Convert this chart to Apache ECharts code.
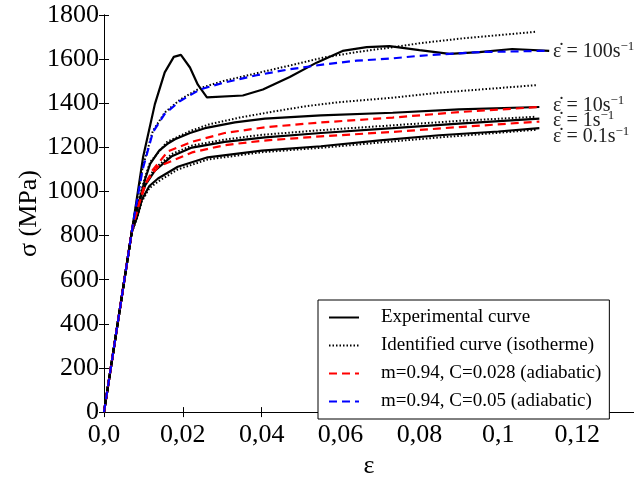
<!DOCTYPE html>
<html>
<head>
<meta charset="utf-8">
<script src="https://cdn.jsdelivr.net/npm/echarts@6/dist/echarts.min.js"></script>
<style>
  html, body { margin: 0; padding: 0; background: #fff; }
  #chart { width: 634px; height: 484px; }
</style>
</head>
<body>
<div id="chart"></div>
<script>
// strain / stress pairs [eps, MPa]
const exp100 = [[0, 0], [0.0075, 870], [0.0099, 1155], [0.0129, 1396], [0.0154, 1540],
  [0.0177, 1610], [0.0195, 1619], [0.0218, 1562], [0.0238, 1484], [0.0261, 1427], [0.0352, 1435],
  [0.0403, 1462], [0.0471, 1519], [0.0539, 1584], [0.0605, 1637], [0.0666, 1654], [0.0724, 1659],
  [0.080, 1641], [0.0876, 1624], [0.0952, 1632], [0.1035, 1646], [0.1129, 1637]];
const exp10 = [[0, 0], [0.0072, 835], [0.0088, 950], [0.0105, 1060], [0.0117, 1125], [0.014, 1185],
  [0.016, 1215], [0.018, 1237], [0.0218, 1265], [0.0256, 1287], [0.0332, 1313], [0.0408, 1330],
  [0.055, 1345], [0.0732, 1357], [0.09, 1372], [0.1104, 1383]];
const exp1 = [[0, 0], [0.0072, 835], [0.0085, 935], [0.0105, 1030], [0.0129, 1094], [0.0172, 1160],
  [0.0223, 1199], [0.0306, 1225], [0.0408, 1245], [0.055, 1265], [0.0732, 1287], [0.09, 1308], [0.1104, 1330]];
const exp01 = [[0, 0], [0.007, 812], [0.0085, 890], [0.0096, 963], [0.0115, 1025], [0.0137, 1059],
  [0.0187, 1112], [0.0263, 1155], [0.040, 1185], [0.055, 1205], [0.070, 1232], [0.085, 1255],
  [0.100, 1272], [0.1104, 1287]];

const iso100 = [[0, 0], [0.0075, 870], [0.0098, 1110], [0.0124, 1275], [0.0154, 1358],
  [0.0192, 1415], [0.0243, 1468], [0.0301, 1500], [0.0387, 1536], [0.0471, 1571], [0.0554, 1606],
  [0.0641, 1632], [0.0724, 1652], [0.080, 1672], [0.0909, 1694], [0.1096, 1724]];
const iso10 = [[0, 0], [0.0072, 835], [0.0088, 960], [0.0105, 1070], [0.0117, 1133], [0.016, 1225],
  [0.0218, 1274], [0.0268, 1305], [0.0344, 1335], [0.0428, 1362], [0.0514, 1387], [0.0597, 1405],
  [0.0732, 1425], [0.085, 1448], [0.0952, 1462], [0.1096, 1482]];
const iso1 = [[0, 0], [0.0072, 835], [0.0085, 940], [0.0105, 1040], [0.0129, 1105], [0.0172, 1170],
  [0.0223, 1208], [0.0306, 1235], [0.0395, 1256], [0.055, 1278], [0.0732, 1300], [0.09, 1320], [0.1096, 1339]];
const iso01 = [[0, 0], [0.007, 812], [0.0085, 885], [0.0096, 955], [0.0115, 1015], [0.0137, 1045],
  [0.0187, 1100], [0.0263, 1145], [0.040, 1178], [0.055, 1198], [0.070, 1222], [0.085, 1245],
  [0.100, 1266], [0.1096, 1280]];

const adiaC028_10 = [[0, 0], [0.0072, 835], [0.0088, 940], [0.0105, 1030], [0.0122, 1094], [0.0162, 1182],
  [0.0223, 1225], [0.0306, 1265], [0.0408, 1291], [0.055, 1313], [0.0732, 1335], [0.09, 1360], [0.1104, 1383]];
const adiaC028_1 = [[0, 0], [0.0072, 835], [0.0085, 920], [0.0104, 1037], [0.0137, 1112], [0.0223, 1177],
  [0.0306, 1210], [0.040, 1230], [0.055, 1250], [0.0732, 1270], [0.09, 1292], [0.1104, 1317]];
const adiaC05_100 = [[0, 0], [0.0075, 870], [0.0098, 1100], [0.0124, 1269], [0.0154, 1352],
  [0.0192, 1409], [0.0243, 1462], [0.0301, 1492], [0.0387, 1527], [0.0471, 1554], [0.0554, 1575],
  [0.0641, 1593], [0.0724, 1602], [0.080, 1615], [0.0876, 1624], [0.0952, 1632], [0.1104, 1637], [0.1129, 1637]];

const legendNames = ['Experimental curve', 'Identified curve (isotherme)',
  'm=0.94, C=0.028 (adiabatic)', 'm=0.94, C=0.05 (adiabatic)'];
const rateLabels = ['100', '10', '1', '0.1'];

const SERIF = 'Liberation Serif';

function line(name, data, color, type, width) {
  return {
    name: name,
    type: 'line',
    data: data,
    symbol: 'none',
    showSymbol: false,
    smooth: false,
    lineStyle: { color: color, type: type, width: width },
    itemStyle: { color: color }
  };
}

const solid = 'solid', dotted = [1.5, 2], dashed = [8, 5];

const series = [
  line(legendNames[0], exp100, '#000', solid, 2.2),
  line(legendNames[0], exp10, '#000', solid, 2.2),
  line(legendNames[0], exp1, '#000', solid, 2.2),
  line(legendNames[0], exp01, '#000', solid, 2.2),
  line(legendNames[1], iso100, '#000', dotted, 2),
  line(legendNames[1], iso10, '#000', dotted, 2),
  line(legendNames[1], iso1, '#000', dotted, 2),
  line(legendNames[1], iso01, '#000', dotted, 2),
  line(legendNames[2], adiaC028_10, '#ff0000', dashed, 2.2),
  line(legendNames[2], adiaC028_1, '#ff0000', dashed, 2.2),
  line(legendNames[3], adiaC05_100, '#0000ff', dashed, 2.2)
];

function tickFmt(v) {
  if (v === 0) return '0,0';
  return String(+v.toFixed(3)).replace('.', ',');
}

const rateY = [52, 106, 121, 137];
const graphics = rateLabels.map(function (r, i) {
  return {
    type: 'text',
    left: 553,
    top: rateY[i] - 12,
    style: {
      text: '{b|ε̇ = ' + r + 's}{s|−1}',
      rich: {
        b: { fontFamily: SERIF, fontSize: 20, fill: '#222' },
        s: { fontFamily: SERIF, fontSize: 13, fill: '#222', padding: [0, 0, 10, 0] }
      }
    }
  };
});

const chart = echarts.init(document.getElementById('chart'), null, { renderer: 'canvas' });
chart.setOption({
  animation: false,
  backgroundColor: '#fff',
  grid: { left: 104, top: 15, right: -1, bottom: 57, containLabel: false },
  xAxis: [{
    type: 'value', min: 0, max: 0.1344, interval: 0.02,
    name: 'ε', nameLocation: 'middle', nameGap: 24,
    nameTextStyle: { fontFamily: SERIF, fontSize: 26, color: '#000' },
    axisLine: { lineStyle: { color: '#000', width: 1 } },
    axisTick: { inside: true, length: 5, lineStyle: { color: '#000' } },
    axisLabel: { formatter: tickFmt, fontFamily: SERIF, fontSize: 26, color: '#000', margin: 10, showMaxLabel: false },
    splitLine: { show: false }
  }, {
    type: 'value', min: 0, max: 0.1344, interval: 0.02, position: 'top',
    axisLine: { lineStyle: { color: '#000', width: 1 } },
    axisTick: { inside: true, length: 5, lineStyle: { color: '#000' } },
    axisLabel: { show: false },
    splitLine: { show: false }
  }],
  yAxis: [{
    type: 'value', min: 0, max: 1800, interval: 200,
    name: 'σ (MPa)', nameLocation: 'middle', nameGap: 62, nameRotate: 90,
    nameMoveOverlap: false,
    nameTextStyle: { fontFamily: SERIF, fontSize: 26, color: '#000' },
    axisLine: { show: true, lineStyle: { color: '#000', width: 1 } },
    axisTick: { show: true, inside: true, length: 5, lineStyle: { color: '#000' } },
    axisLabel: { formatter: function (v) { return String(v); }, fontFamily: SERIF, fontSize: 26, color: '#000', margin: 5 },
    splitLine: { show: false }
  }, {
    type: 'value', min: 0, max: 1800, interval: 200, position: 'right',
    axisLine: { show: true, lineStyle: { color: '#000', width: 1 } },
    axisTick: { show: true, inside: true, length: 5, lineStyle: { color: '#000' } },
    axisLabel: { show: false },
    splitLine: { show: false }
  }],
  legend: {
    data: legendNames,
    orient: 'vertical',
    left: 318, top: 300,
    padding: [8, 8, 8, 10],
    itemWidth: 30, itemHeight: 14, itemGap: 9,
    borderColor: '#000', borderWidth: 1, borderRadius: 0,
    backgroundColor: '#fff',
    selectedMode: false,
    itemStyle: { opacity: 0 },
    textStyle: { fontFamily: SERIF, fontSize: 19, color: '#000', lineHeight: 18, padding: [0, 0, 0, 17] }
  },
  graphic: graphics,
  series: series
});
</script>
</body>
</html>
